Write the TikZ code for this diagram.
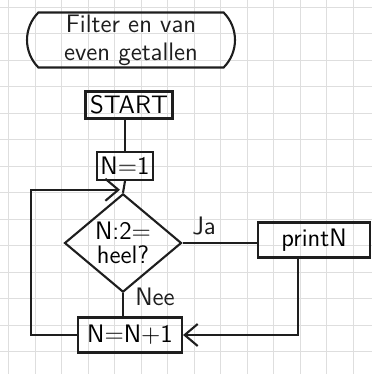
\documentclass[tikz,border=0pt]{standalone}
\usepackage{tikz}
\usetikzlibrary{arrows.meta,shapes.geometric,shapes.misc,calc}
\definecolor{inkcolor}{RGB}{30,30,30}
\definecolor{papercolor}{RGB}{222,222,222}

\begin{document}
\begin{tikzpicture}[
  x=0.02cm, y=-0.02cm,
  ink/.style={draw=inkcolor, line width=1.2pt},
  box/.style={ink, rectangle, inner sep=0pt, font=\Large\sffamily},
  test/.style={ink, diamond, inner sep=0pt, align=center, font=\Large\sffamily,
               minimum width=2.34cm, minimum height=1.4cm},
  flow/.style={draw=inkcolor, line width=1.2pt},
  arr/.style={flow, -{Straight Barb[length=2.6mm, width=4.4mm, line width=1.2pt]}},
  lab/.style={text=inkcolor, font=\Large\sffamily},
]

\useasboundingbox (0,0) rectangle (372,374);

% ---------- squared paper ----------
\foreach \gx in {8.5,35,...,372}
  \draw[papercolor, line width=0.3pt] (\gx,0) -- (\gx,374);
\foreach \gy in {7,33.5,...,374}
  \draw[papercolor, line width=0.3pt] (0,\gy) -- (372,\gy);

% ---------- nodes ----------
\node[ink, rounded rectangle, rounded rectangle arc length=90, align=center,
      minimum width=4.16cm, minimum height=1.1cm, inner sep=0pt,
      font=\Large\sffamily, text=inkcolor] (title) at (131,40)
  {Filter en van\\[-2pt]even getallen};
\node[box, minimum width=1.74cm, minimum height=0.54cm] (start) at (129,105) {START};
\node[box, minimum width=1.12cm, minimum height=0.56cm] (n1) at (125,166) {N=1};
\node[test] (check) at (123,243) {N:2=\\[-4pt]heel?};
\node[box, minimum width=2.24cm, minimum height=0.7cm] (print) at (314,240) {printN};
\node[box, minimum width=2.08cm, minimum height=0.7cm] (incr) at (130,335) {N=N+1};

% ---------- connectors ----------
\draw[flow] (start.south -| n1) -- (n1.north);
\draw[flow] (n1.south) -- (check.north);
\draw[flow] (check.east) -- (check.east -| print.west);
\draw[flow] (check.south) -- (check.south |- incr.north);
\coordinate (down) at ($(print.south)+(-16,0)$);
\draw[arr] (down) -- (down |- incr.east) -- (incr.east);
\coordinate (back) at (31,335);
\draw[arr] (incr.west) -- (back) |- ($(check.north)+(-3,-3)$);

\node[lab] (ja) at (204,226) {Ja};
\node[lab] (nee) at (155,297) {Nee};

\end{tikzpicture}
\end{document}
